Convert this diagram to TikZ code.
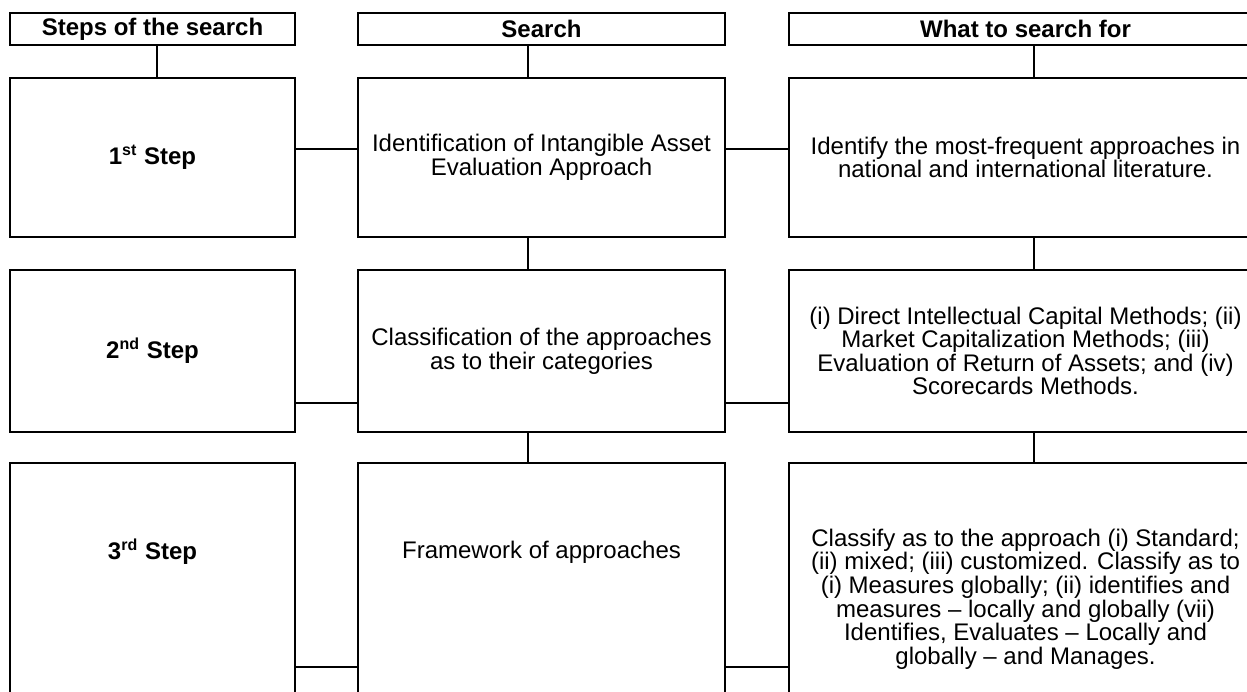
\documentclass[tikz,border=0pt]{standalone}
\usepackage{fontspec}
\setmainfont{Liberation Sans}
\usepackage{tikz}
\usetikzlibrary{calc}

\tikzset{
  box/.style={draw, line width=1pt, inner sep=0pt, align=center,
    font=\fontsize{12}{11.8}\selectfont},
  headbox/.style={box, minimum height=16pt, font=\fontsize{12}{11.8}\selectfont\bfseries},
  link/.style={line width=1pt}
}

\begin{document}
\begin{tikzpicture}[x=0.5pt, y=-0.5pt]
  \useasboundingbox (0,0) rectangle (1247,691);
  \clip (0,0) rectangle (1247,691);

  % headers
  \node[headbox, minimum width=142.5pt] (hsteps) at (152.5, 29) {Steps of the search};
  \node[headbox, minimum width=183.5pt] (hsearch) at (541.5, 29) {Search};
  \node[headbox, minimum width=236.5pt] (hwhat) at (1025.5, 29) {What to search for};

  % 1st row
  \node[box, minimum width=142.5pt, minimum height=79.5pt, font=\fontsize{12}{11.8}\selectfont\bfseries] (step1) at (152.5, 157.5) {1\textsuperscript{st} Step};
  \node[box, minimum width=183.5pt, minimum height=79.5pt] (search1) at (541.5, 157.5)
    {Identification of Intangible Asset\\Evaluation Approach};
  \node[box, minimum width=236.5pt, minimum height=79.5pt] (what1) at (1025.5, 157.5)
    {Identify the most-frequent approaches in\\national and international literature.};

  % 2nd row
  \node[box, minimum width=142.5pt, minimum height=81pt, font=\fontsize{12}{11.8}\selectfont\bfseries] (step2) at (152.5, 351) {2\textsuperscript{nd} Step};
  \node[box, minimum width=183.5pt, minimum height=81pt] (search2) at (541.5, 351)
    {Classification of the approaches\\as to their categories};
  \node[box, minimum width=236.5pt, minimum height=81pt] (what2) at (1025.5, 351)
    {(i) Direct Intellectual Capital Methods; (ii)\\Market Capitalization Methods; (iii)\\Evaluation of Return of Assets; and (iv)\\Scorecards Methods.};

  % 3rd row
  \node[box, minimum width=142.5pt, minimum height=136pt] (step3) at (152.5, 599) {};
  \node[font=\fontsize{12}{11.8}\selectfont\bfseries] (step3txt) at (152.5, 552) {3\textsuperscript{rd} Step};
  \node[box, minimum width=183.5pt, minimum height=136pt] (search3) at (541.5, 599) {};
  \node[font=\fontsize{12}{11.8}\selectfont] (search3txt) at (541.5, 552) {Framework of approaches};
  \node[box, minimum width=236.5pt, minimum height=136pt] (what3) at (1025.5, 599)
    {Classify as to the approach (i) Standard;\\(ii) mixed; (iii) customized. Classify as to\\(i) Measures globally; (ii) identifies and\\measures -- locally and globally (vii)\\Identifies, Evaluates -- Locally and\\globally -- and Manages.};

  % headers down to the first row
  \draw[link] ([xshift=2.25pt]hsteps.south) -- ([xshift=2.25pt]step1.north);
  \draw[link] ([xshift=-6.75pt]hsearch.south) -- ([xshift=-6.75pt]search1.north);
  \draw[link] ([xshift=4.25pt]hwhat.south) -- ([xshift=4.25pt]what1.north);

  % between rows
  \draw[link] ([xshift=-6.75pt]search1.south) -- ([xshift=-6.75pt]search2.north);
  \draw[link] ([xshift=-6.75pt]search2.south) -- ([xshift=-6.75pt]search3.north);
  \draw[link] ([xshift=4.25pt]what1.south) -- ([xshift=4.25pt]what2.north);
  \draw[link] ([xshift=4.25pt]what2.south) -- ([xshift=4.25pt]what3.north);

  % across the rows
  \draw[link] ([yshift=4.25pt]step1.east) -- ([yshift=4.25pt]search1.west);
  \draw[link] ([yshift=4.25pt]search1.east) -- ([yshift=4.25pt]what1.west);
  \draw[link] ([yshift=-26pt]step2.east) -- ([yshift=-26pt]search2.west);
  \draw[link] ([yshift=-26pt]search2.east) -- ([yshift=-26pt]what2.west);
  \draw[link] ([yshift=-34pt]step3.east) -- ([yshift=-34pt]search3.west);
  \draw[link] ([yshift=-34pt]search3.east) -- ([yshift=-34pt]what3.west);
\end{tikzpicture}
\end{document}
